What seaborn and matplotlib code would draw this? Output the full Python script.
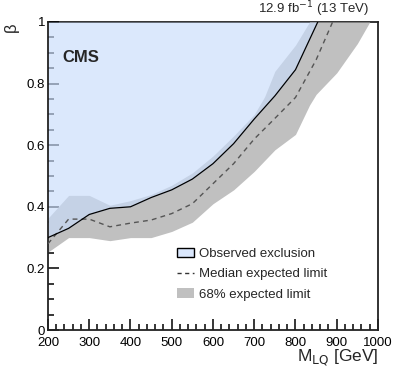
import numpy as np
import pandas as pd
import matplotlib
matplotlib.use('Agg')
import matplotlib.pyplot as plt
import seaborn as sns
from matplotlib.patches import Patch
from matplotlib.lines import Line2D
from matplotlib.ticker import MultipleLocator

# 观测排除限
obs_mass = [200, 250, 300, 350, 400, 450, 500, 550, 600, 650, 700, 750, 800, 854]
obs_beta = [0.30, 0.33, 0.375, 0.395, 0.40, 0.43, 0.455, 0.49, 0.54, 0.605, 0.685, 0.76, 0.845, 1.0]

# 中值期望限
exp_mass = [200, 250, 300, 350, 400, 450, 500, 550, 600, 650, 700, 750, 800, 850, 890]
exp_beta = [0.28, 0.36, 0.36, 0.335, 0.347, 0.357, 0.378, 0.41, 0.475, 0.54, 0.62, 0.687, 0.755, 0.877, 1.0]

# 68% 区间
band_mass = [200, 250, 300, 350, 400, 450, 500, 550, 600, 650, 700, 725, 750, 800, 834, 850, 900, 950, 980]
band_low = [0.253, 0.30, 0.30, 0.29, 0.30, 0.30, 0.32, 0.35, 0.41, 0.455, 0.515, 0.55, 0.585, 0.635, 0.73, 0.765, 0.835, 0.93, 1.0]
band_high = [0.363, 0.437, 0.437, 0.405, 0.42, 0.44, 0.47, 0.51, 0.565, 0.63, 0.70, 0.757, 0.84, 0.925, 1.0, 1.0, 1.0, 1.0, 1.0]

sns.set_style('ticks')
plt.rcParams['font.family'] = ['Liberation Sans', 'DejaVu Sans']

fig = plt.figure(figsize=(3.93, 3.72), dpi=100)
ax = fig.add_axes([0.1221, 0.1129, 0.8397, 0.828])

ax.fill_between(band_mass, band_low, band_high, color='#c0c0c0', lw=0, zorder=1)
ax.fill_between(obs_mass, obs_beta, 1.0, color='#c8dcfb', alpha=0.65, lw=0, zorder=2)

exp_df = pd.DataFrame({'mass': exp_mass, 'beta': exp_beta})
obs_df = pd.DataFrame({'mass': obs_mass, 'beta': obs_beta})
sns.lineplot(data=exp_df, x='mass', y='beta', ax=ax, color='#555555', lw=1.0,
             linestyle=(0, (3.5, 3)), zorder=3, sort=False)
sns.lineplot(data=obs_df, x='mass', y='beta', ax=ax, color='black', lw=0.9,
             zorder=4, sort=False)

ax.set_xlim(200, 1000)
ax.set_ylim(0, 1)
ax.xaxis.set_major_locator(MultipleLocator(100))
ax.xaxis.set_minor_locator(MultipleLocator(20))
ax.yaxis.set_major_locator(MultipleLocator(0.2))
ax.yaxis.set_minor_locator(MultipleLocator(0.05))
ax.yaxis.set_major_formatter(plt.FuncFormatter(lambda v, p: f'{v:g}'))
ax.tick_params(which='both', direction='in', top=False, right=False, labelsize=9.5,
               colors='black')
ax.tick_params(axis='x', pad=5)
ax.tick_params(axis='y', pad=2)
ax.tick_params(which='major', length=8, width=1.1)
ax.tick_params(which='minor', length=4.5, width=1.1)
for s in ax.spines.values():
    s.set_linewidth(1.3)
    s.set_color('#222222')
ax.spines['top'].set_zorder(0.5)

ax.set_xlabel('')
ax.set_ylabel('')
fig.text(0.962, 0.01, r'M$_{\rm LQ}$ [GeV]', ha='right', va='bottom', fontsize=12.5)
fig.text(0.03, 0.94, 'β', ha='center', va='top', rotation=90, fontsize=12)
ax.text(0.045, 0.91, 'CMS', transform=ax.transAxes, fontsize=12, fontweight='bold',
        ha='left', va='top')
fig.text(0.938, 0.948, r'12.9 fb$^{-1}$ (13 TeV)', ha='right', va='bottom', fontsize=9.5)

handles = [Patch(facecolor='#dae7fc', edgecolor='black', lw=1.0),
           Line2D([], [], color='#333333', lw=1.0, linestyle=(0, (3, 2.5))),
           Patch(facecolor='#c0c0c0', edgecolor='none')]
labels = ['Observed exclusion', 'Median expected limit', '68% expected limit']
ax.legend(handles, labels, loc='upper left', bbox_to_anchor=(0.375, 0.283), frameon=False,
          fontsize=9.5, handlelength=1.3, handletextpad=0.35, labelspacing=0.6,
          borderaxespad=0)

fig.savefig('out.png', dpi=100)
